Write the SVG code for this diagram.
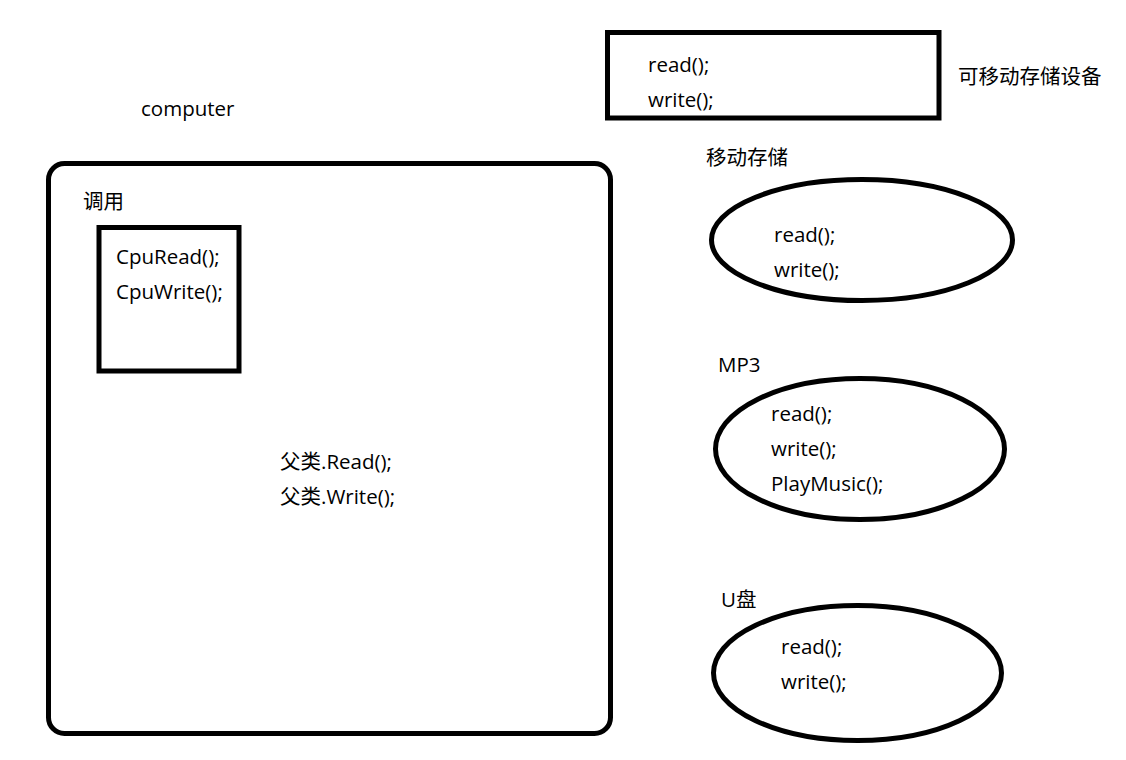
<svg xmlns="http://www.w3.org/2000/svg" width="1126" height="760" viewBox="0 0 1126 760">
<style>
text{font-family:"Open Sans","Noto Sans CJK SC",sans-serif;font-size:20.5px;fill:#000}
.s{fill:none;stroke:#000;stroke-width:5}
</style>
<rect width="1126" height="760" fill="#fff"/>
<g id="removable-storage">
<rect class="s" x="607.5" y="32.5" width="331.5" height="85.5"/>
<text x="648" y="72">read();</text>
<text x="648" y="107">write();</text>
<text x="958" y="84">可移动存储设备</text>
</g>
<g id="computer">
<text x="141" y="116">computer</text>
<rect class="s" x="48.5" y="163.5" width="562" height="570" rx="16"/>
<text x="83" y="209">调用</text>
<text x="280" y="469">父类.Read();</text>
<text x="280" y="504">父类.Write();</text>
</g>
<g id="cpu">
<rect class="s" x="99" y="227.5" width="140" height="143.5"/>
<text x="116" y="264">CpuRead();</text>
<text x="116" y="299">CpuWrite();</text>
</g>
<g id="mobile-storage">
<text x="706" y="165">移动存储</text>
<ellipse class="s" cx="862" cy="240" rx="150.5" ry="60.5"/>
<text x="774" y="242">read();</text>
<text x="774" y="277">write();</text>
</g>
<g id="mp3">
<text x="718" y="372">MP3</text>
<ellipse class="s" cx="860" cy="449" rx="144.5" ry="70.5"/>
<text x="771" y="421">read();</text>
<text x="771" y="456">write();</text>
<text x="771" y="491">PlayMusic();</text>
</g>
<g id="udisk">
<text x="721" y="607">U盘</text>
<ellipse class="s" cx="857.5" cy="673" rx="144" ry="67.5"/>
<text x="781" y="654">read();</text>
<text x="781" y="689">write();</text>
</g>
<g id="connectors"></g>
</svg>
